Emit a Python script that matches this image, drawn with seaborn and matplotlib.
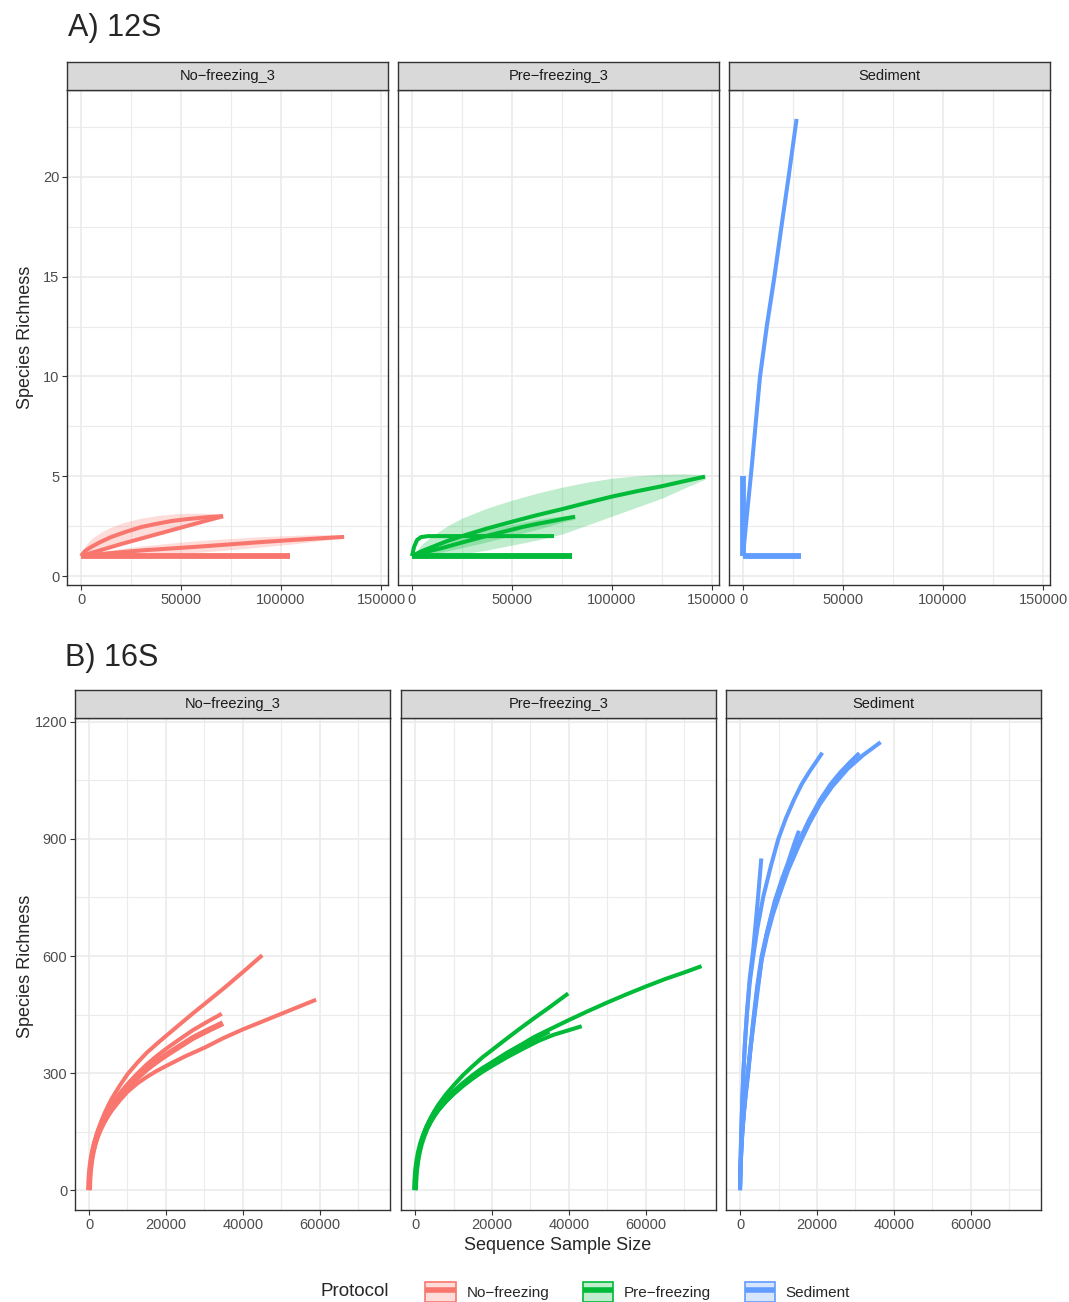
# -*- coding: utf-8 -*-
# Rarefaction curves (iNEXT style) for 12S and 16S, faceted by protocol

import matplotlib
matplotlib.use("Agg")
import matplotlib.pyplot as plt
from matplotlib.patches import Patch
from matplotlib.lines import Line2D
import seaborn as sns
import numpy as np
import pandas as pd

################################################################################
# data

facets = ['No\u2212freezing_3', 'Pre\u2212freezing_3', 'Sediment']
protocols = ['No\u2212freezing', 'Pre\u2212freezing', 'Sediment']
colors = ['#F8766D', '#00BA38', '#619CFF']

## 12S, No-freezing_3
nf12_a_x = [0, 2000, 5000, 10000, 15000, 22000, 30000, 38000, 45000, 52000, 60000, 66000, 71000]
nf12_a_y = [1, 1.25, 1.45, 1.72, 1.95, 2.2, 2.45, 2.62, 2.75, 2.84, 2.92, 2.97, 3.0]
nf12_a_lo = [1, 1.05, 1.1, 1.3, 1.45, 1.7, 1.95, 2.15, 2.35, 2.5, 2.68, 2.8, 2.9]
nf12_a_hi = [1, 1.5, 1.85, 2.2, 2.45, 2.7, 2.9, 3.02, 3.1, 3.14, 3.15, 3.13, 3.08]
nf12_b_x = [0, 20000, 40000, 60000, 71000]
nf12_b_y = [1, 1.6, 2.15, 2.7, 3.0]
nf12_c_x = [0, 15000, 30000, 45000, 60000, 75000, 90000, 105000, 118000, 131500]
nf12_c_y = [1, 1.15, 1.28, 1.38, 1.48, 1.59, 1.7, 1.8, 1.88, 1.96]
nf12_c_lo = [1, 1.02, 1.05, 1.12, 1.2, 1.32, 1.45, 1.6, 1.75, 1.9]
nf12_c_hi = [1, 1.3, 1.5, 1.65, 1.78, 1.88, 1.97, 2.03, 2.07, 2.05]
nf12_d_x = [0, 104500]
nf12_d_y = [1, 1]

## 12S, Pre-freezing_3
pf12_e_x = [0, 5000, 10000, 17500, 25000, 37500, 50000, 62500, 75000, 87500, 100000, 112500, 125000, 136000, 146500]
pf12_e_y = [1, 1.25, 1.45, 1.75, 2.0, 2.38, 2.72, 3.05, 3.35, 3.67, 3.98, 4.25, 4.5, 4.75, 4.98]
pf12_e_lo = [1, 1.0, 1.0, 1.05, 1.1, 1.3, 1.55, 1.8, 2.1, 2.55, 3.0, 3.45, 3.9, 4.4, 4.85]
pf12_e_hi = [1, 1.6, 2.0, 2.5, 2.9, 3.4, 3.8, 4.15, 4.45, 4.7, 4.9, 5.02, 5.1, 5.12, 5.08]
pf12_f_x = [0, 7500, 15000, 25000, 35000, 45000, 55000, 63000, 70000, 76000, 81500]
pf12_f_y = [1, 1.22, 1.4, 1.68, 1.95, 2.2, 2.45, 2.62, 2.75, 2.87, 2.97]
pf12_f_lo = [1, 1.08, 1.2, 1.42, 1.65, 1.9, 2.15, 2.35, 2.55, 2.72, 2.85]
pf12_f_hi = [1, 1.38, 1.65, 1.95, 2.25, 2.48, 2.7, 2.84, 2.95, 3.02, 3.07]
pf12_g_x = [0, 1000, 2500, 4500, 8000, 71000]
pf12_g_y = [1, 1.45, 1.8, 1.95, 2.0, 2.0]
pf12_h_x = [0, 80000]
pf12_h_y = [1, 1]

## 12S, Sediment
sd12_i_x = [0, 2200, 4300, 6400, 8500, 12000, 15700, 19200, 22800, 26800]
sd12_i_y = [1, 3.3, 5.4, 7.7, 10, 12.6, 15, 17.5, 20, 22.9]
sd12_i_lo = [1, 3.2, 5.1, 7.2, 9.4, 12.0, 14.4, 17.0, 19.7, 22.9]
sd12_i_hi = [1, 3.4, 5.7, 8.2, 10.6, 13.2, 15.6, 18.0, 20.3, 22.9]
sd12_j_x = [0, 0]
sd12_j_y = [1, 5]
sd12_k_x = [0, 29000]
sd12_k_y = [1, 1]

## 16S, No-freezing_3
nf16_a_x = [0, 100, 300, 600, 1000, 1500, 2200, 3000, 4000, 5000, 6000, 8000, 10000, 12500, 15000, 17500, 20000, 23000, 27000, 31000, 35000, 40000, 45000]
nf16_a_y = [0, 28, 56, 81, 104, 126, 150, 172, 196, 217, 236, 268, 297, 326, 352, 374, 395, 420, 453, 485, 517, 559, 602]
nf16_b_x = [0, 100, 300, 600, 1000, 1500, 2200, 3000, 4000, 5000, 6000, 8000, 10000, 12500, 15000, 17500, 20000, 25000, 30000, 35000, 40000, 45000, 50000, 54000, 59000]
nf16_b_y = [0, 26, 50, 72, 93, 112, 134, 153, 173, 190, 205, 230, 252, 273, 290, 305, 318, 343, 365, 390, 412, 432, 452, 468, 488]
nf16_c_x = [0, 100, 300, 600, 1000, 1500, 2200, 3000, 4000, 5000, 6000, 8000, 10000, 12500, 15000, 17500, 20000, 23000, 27000, 31000, 34500]
nf16_c_y = [0, 27, 54, 78, 100, 121, 144, 165, 186, 204, 220, 248, 272, 298, 322, 343, 362, 383, 410, 433, 452]
nf16_d_x = [0, 100, 300, 600, 1000, 1500, 2200, 3000, 4000, 5000, 6000, 8000, 10000, 12500, 15000, 17500, 20000, 23000, 27000, 31000, 34800]
nf16_d_y = [0, 27, 53, 77, 99, 120, 142, 163, 183, 200, 216, 242, 264, 288, 310, 329, 346, 365, 390, 410, 428]

## 16S, Pre-freezing_3
pf16_e_x = [0, 100, 300, 600, 1000, 1500, 2200, 3000, 4000, 5000, 6000, 8000, 10000, 12500, 15000, 17500, 20000, 23000, 27000, 31000, 35000, 39800]
pf16_e_y = [0, 27, 53, 77, 99, 120, 142, 163, 184, 202, 218, 245, 268, 295, 318, 340, 359, 382, 412, 441, 469, 504]
pf16_f_x = [0, 100, 300, 600, 1000, 1500, 2200, 3000, 4000, 5000, 6000, 8000, 10000, 12500, 15000, 17500, 20000, 25000, 30000, 35000, 40000, 45000, 50000, 55000, 60000, 65000, 70000, 74450]
pf16_f_y = [0, 26, 52, 75, 97, 117, 138, 158, 177, 193, 207, 230, 250, 272, 292, 310, 326, 357, 386, 412, 436, 459, 481, 502, 522, 541, 558, 574]
pf16_g_x = [0, 100, 300, 600, 1000, 1500, 2200, 3000, 4000, 5000, 6000, 8000, 10000, 12500, 15000, 17500, 20000, 24000, 28000, 32000, 36000, 40000, 43300]
pf16_g_y = [0, 26, 51, 74, 96, 116, 137, 157, 176, 191, 205, 227, 246, 267, 286, 303, 318, 341, 362, 382, 398, 410, 420]
pf16_h_x = [0, 100, 300, 600, 1000, 1500, 2200, 3000, 4000, 5000, 6000, 8000, 10000, 12500, 15000, 17500, 20000, 24000, 28000, 31000, 34800]
pf16_h_y = [0, 26, 52, 75, 97, 117, 138, 158, 177, 193, 207, 230, 250, 272, 292, 310, 325, 350, 372, 390, 408]

## 16S, Sediment
sd16_1_x = [0, 100, 300, 600, 870, 1300, 1800, 2500, 3460, 4500, 6000, 8000, 9950, 12000, 14000, 16000, 18000, 19800, 21380]
sd16_1_y = [0, 60, 140, 230, 300, 380, 450, 530, 600, 670, 750, 830, 900, 955, 1000, 1040, 1072, 1098, 1121]
sd16_2_x = [0, 100, 300, 600, 1000, 1500, 2080, 2800, 3500, 4500, 5630, 7000, 8500, 10000, 12500, 15580, 18000, 20800, 23500, 26000, 28500, 31000]
sd16_2_y = [0, 45, 95, 150, 200, 250, 300, 375, 440, 525, 600, 660, 715, 760, 830, 900, 950, 1000, 1040, 1070, 1096, 1120]
sd16_3_x = [0, 100, 300, 600, 1000, 1500, 2080, 2800, 3500, 4500, 5630, 7000, 8500, 10000, 12500, 15580, 18000, 20800, 24000, 28000, 32000, 36540]
sd16_3_y = [0, 43, 92, 145, 195, 245, 295, 368, 432, 515, 590, 650, 705, 750, 820, 890, 940, 990, 1035, 1080, 1115, 1148]
sd16_4_x = [0, 100, 300, 600, 870, 1300, 1800, 2500, 3460, 4500, 5540]
sd16_4_y = [0, 60, 140, 230, 300, 380, 455, 540, 620, 730, 850]
sd16_5_x = [0, 100, 300, 600, 1000, 1500, 2200, 3000, 4000, 5600, 7000, 9000, 11000, 12500, 14000, 15320]
sd16_5_y = [0, 45, 95, 150, 200, 260, 320, 385, 465, 590, 660, 740, 800, 840, 885, 921]

# (facet index, curve name, x, y, lower, upper)
curves_12s = [
	(0, 'nf_a', nf12_a_x, nf12_a_y, nf12_a_lo, nf12_a_hi),
	(0, 'nf_b', nf12_b_x, nf12_b_y, None, None),
	(0, 'nf_c', nf12_c_x, nf12_c_y, nf12_c_lo, nf12_c_hi),
	(0, 'nf_d', nf12_d_x, nf12_d_y, None, None),
	(1, 'pf_e', pf12_e_x, pf12_e_y, pf12_e_lo, pf12_e_hi),
	(1, 'pf_f', pf12_f_x, pf12_f_y, pf12_f_lo, pf12_f_hi),
	(1, 'pf_g', pf12_g_x, pf12_g_y, None, None),
	(1, 'pf_h', pf12_h_x, pf12_h_y, None, None),
	(2, 'sd_i', sd12_i_x, sd12_i_y, sd12_i_lo, sd12_i_hi),
	(2, 'sd_j', sd12_j_x, sd12_j_y, None, None),
	(2, 'sd_k', sd12_k_x, sd12_k_y, None, None),
]
curves_16s = [
	(0, 'nf_a', nf16_a_x, nf16_a_y, None, None),
	(0, 'nf_b', nf16_b_x, nf16_b_y, None, None),
	(0, 'nf_c', nf16_c_x, nf16_c_y, None, None),
	(0, 'nf_d', nf16_d_x, nf16_d_y, None, None),
	(1, 'pf_e', pf16_e_x, pf16_e_y, None, None),
	(1, 'pf_f', pf16_f_x, pf16_f_y, None, None),
	(1, 'pf_g', pf16_g_x, pf16_g_y, None, None),
	(1, 'pf_h', pf16_h_x, pf16_h_y, None, None),
	(2, 'sd_1', sd16_1_x, sd16_1_y, None, None),
	(2, 'sd_2', sd16_2_x, sd16_2_y, None, None),
	(2, 'sd_3', sd16_3_x, sd16_3_y, None, None),
	(2, 'sd_4', sd16_4_x, sd16_4_y, None, None),
	(2, 'sd_5', sd16_5_x, sd16_5_y, None, None),
]

# flat lines where several samples overlap look thicker
thick_curves = {'nf_d', 'pf_h', 'sd_j', 'sd_k'}

################################################################################

sns.set_theme(style='white')
plt.rcParams['font.family'] = ['Liberation Sans', 'DejaVu Sans']

W, H = 1069, 1302
fig = plt.figure(figsize=(W / 100, H / 100), dpi=100)


def box(l, t, r, b):
	return [l / W, 1 - b / H, (r - l) / W, (b - t) / H]


def to_frame(curves):
	rows = []
	for (fi, name, x, y, lo, hi) in curves:
		for k in range(len(x)):
			rows.append({'facet': fi, 'curve': name, 'x': x[k], 'y': y[k],
			             'lo': lo[k] if lo else np.nan, 'hi': hi[k] if hi else np.nan})
	return pd.DataFrame(rows)


## Draws one row of three facets
def draw_row(df, lefts, width, top, bottom, strip_h, xlim, ylim, xmaj, xmin, ymaj, ymin):
	axes = []
	for fi, l in enumerate(lefts):
		ax = fig.add_axes(box(l, top, l + width, bottom))
		sub = df[df['facet'] == fi]
		col = colors[fi]
		for name, g in sub.groupby('curve', sort=False):
			if g['lo'].notna().all():
				ax.fill_between(g['x'], g['lo'], g['hi'], color=col, alpha=0.25, lw=0)
		thin = sub[~sub['curve'].isin(thick_curves)]
		thick = sub[sub['curve'].isin(thick_curves)]
		if len(thin):
			sns.lineplot(data=thin, x='x', y='y', units='curve', estimator=None, sort=False,
			             color=col, lw=2.9, ax=ax, legend=False, solid_capstyle='butt')
		if len(thick):
			sns.lineplot(data=thick, x='x', y='y', units='curve', estimator=None, sort=False,
			             color=col, lw=4.2, ax=ax, legend=False, solid_capstyle='butt')
		ax.set_xlim(xlim)
		ax.set_ylim(ylim)
		ax.set_xticks(xmaj)
		ax.set_xticks(xmin, minor=True)
		ax.set_yticks(ymaj)
		ax.set_yticks(ymin, minor=True)
		ax.set_xticklabels([str(v) for v in xmaj])
		ax.grid(which='major', color='#EBEBEB', lw=1.2)
		ax.grid(which='minor', color='#EBEBEB', lw=0.8)
		ax.set_axisbelow(True)
		ax.set_xlabel('')
		ax.set_ylabel('')
		ax.tick_params(which='major', axis='both', length=3.5, width=0.8, color='#333333',
		               labelcolor='#4D4D4D', labelsize=10.5, pad=2, bottom=True, left=(fi == 0))
		ax.tick_params(which='minor', length=0)
		if fi == 0:
			ax.set_yticklabels([str(v) for v in ymaj])
		else:
			ax.set_yticklabels([])
		for s in ax.spines.values():
			s.set_color('#333333')
			s.set_linewidth(1.0)

		sax = fig.add_axes(box(l, top - strip_h, l + width, top))
		sax.set_facecolor('#D9D9D9')
		sax.set_xticks([])
		sax.set_yticks([])
		for s in sax.spines.values():
			s.set_color('#333333')
			s.set_linewidth(1.0)
		sax.text(0.5, 0.5, facets[fi], ha='center', va='center', fontsize=10.5, color='#1A1A1A',
		         transform=sax.transAxes)
		axes.append(ax)
	return axes


df12 = to_frame(curves_12s)
df16 = to_frame(curves_16s)

draw_row(df12, [67, 398, 729], 321, 90, 585, 28,
         (-7000, 153500), (-0.45, 24.35),
         [0, 50000, 100000, 150000], [25000, 75000, 125000],
         [0, 5, 10, 15, 20], [2.5, 7.5, 12.5, 17.5, 22.5])

draw_row(df16, [75, 401, 726], 315, 718, 1210, 28,
         (-3640, 78200), (-51, 1210),
         [0, 20000, 40000, 60000], [10000, 30000, 50000, 70000],
         [0, 300, 600, 900, 1200], [150, 450, 750, 1050])

fig.text(68 / W, 1 - 28 / H, 'A) 12S', fontsize=22, ha='left', va='center')
fig.text(65 / W, 1 - 658 / H, 'B) 16S', fontsize=22, ha='left', va='center')
fig.text(25 / W, 1 - 337 / H, 'Species Richness', fontsize=13, rotation=90, ha='center', va='center')
fig.text(25 / W, 1 - 966 / H, 'Species Richness', fontsize=13, rotation=90, ha='center', va='center')
fig.text(558 / W, 1 - 1246 / H, 'Sequence Sample Size', fontsize=13, ha='center', va='center')

# legend
fig.text(320 / W, 1 - 1292 / H, 'Protocol', fontsize=13.5, ha='left', va='center')
handles = []
for c in colors:
	handles.append((Patch(facecolor=c, alpha=0.25, edgecolor='none'),
	                Patch(facecolor='none', edgecolor=c, lw=1.2),
	                Line2D([0], [0], color=c, lw=4, solid_capstyle='butt')))
fig.legend(handles, protocols, ncol=3, loc='center left', frameon=False,
           bbox_to_anchor=(425 / W, 1 - 1292 / H), fontsize=11,
           handlelength=2.0, handleheight=1.6, handletextpad=0.7, columnspacing=2.2,
           borderaxespad=0, borderpad=0)

fig.savefig('out.png', dpi=100)
